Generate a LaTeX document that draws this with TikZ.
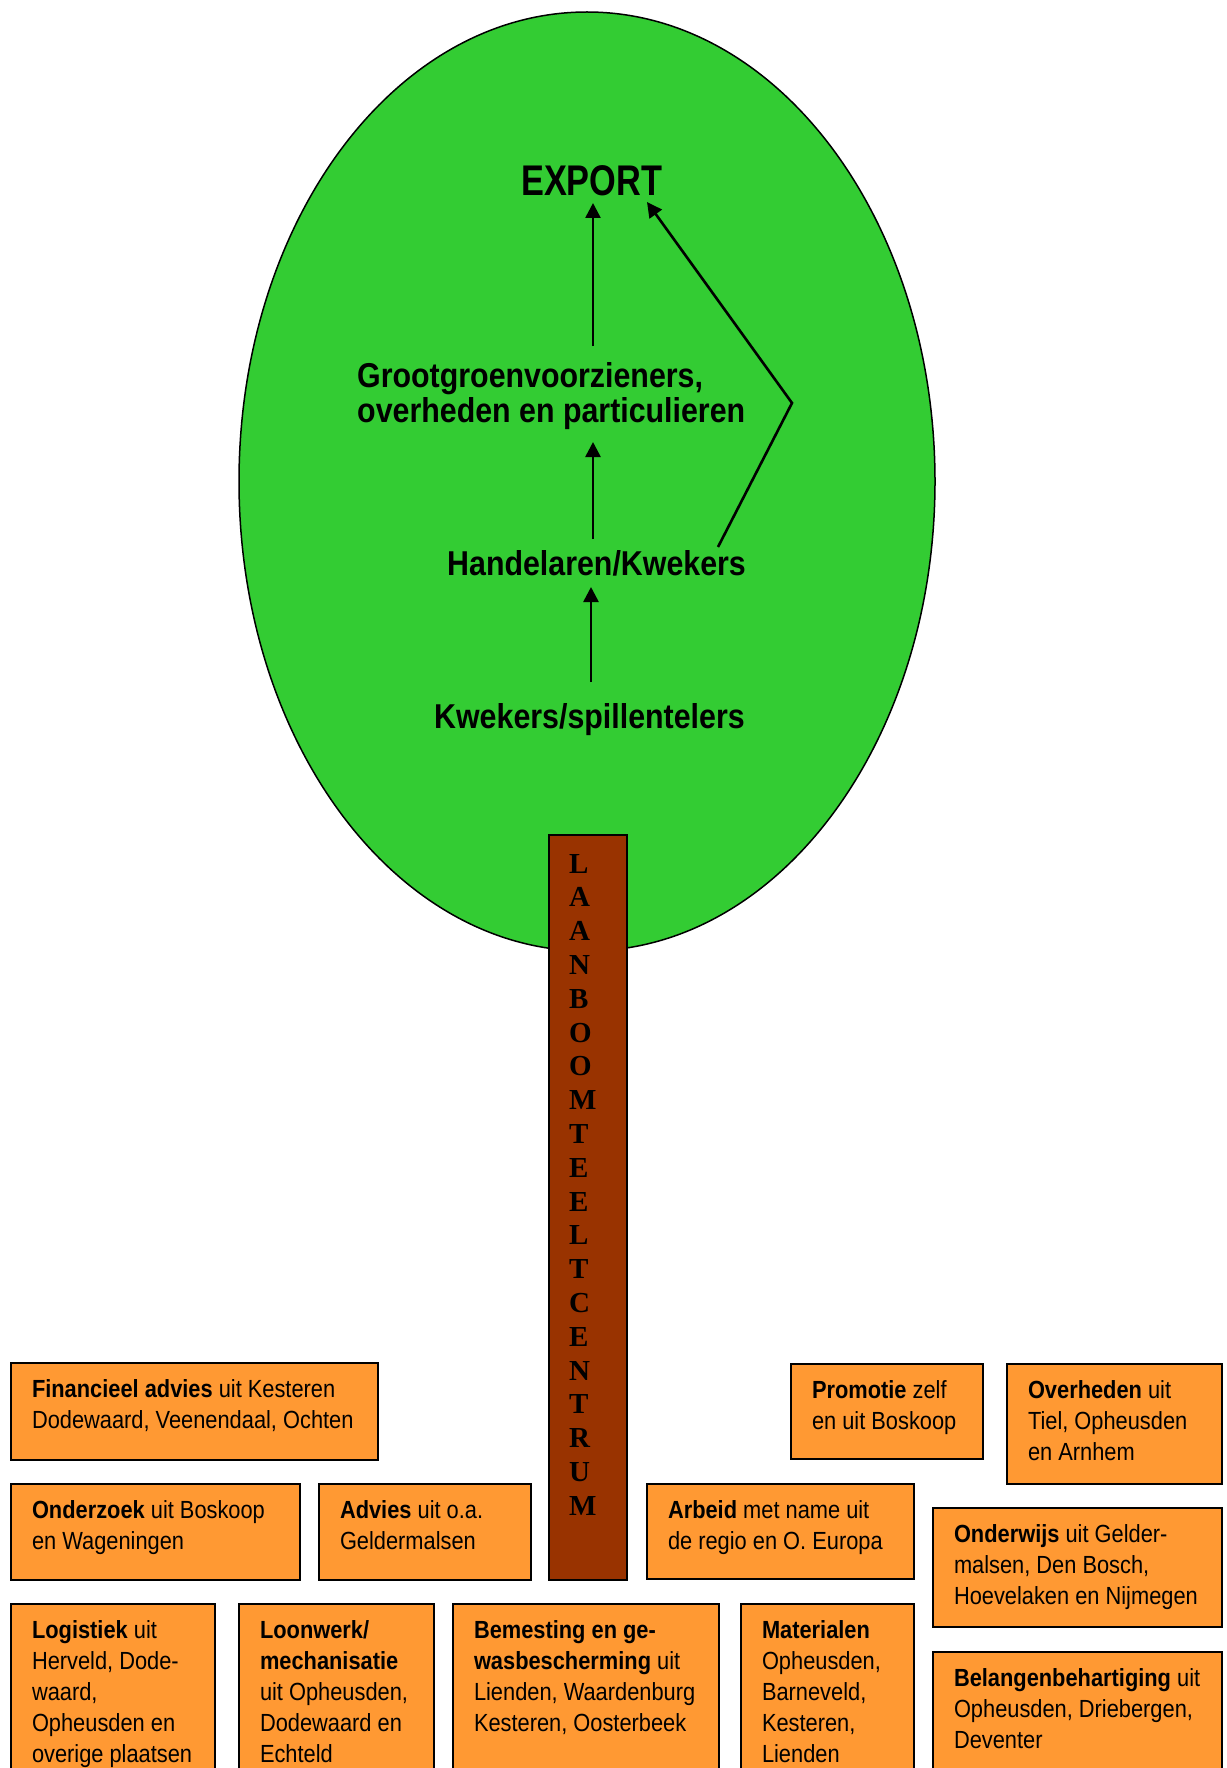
\documentclass[tikz,border=0pt]{standalone}
\usepackage{fontspec}
\setmainfont{Liberation Sans}[FakeStretch=0.88]
\newfontfamily\expfont{Liberation Sans}[FakeStretch=0.8]
\newfontfamily\trunkfont{Liberation Serif}
\usetikzlibrary{arrows.meta}
\definecolor{treegreen}{RGB}{51,204,51}
\definecolor{boxorange}{RGB}{255,153,51}
\definecolor{trunkbrown}{RGB}{153,51,0}
\newcommand{\bxt}[3]{\parbox[c][#2pt][t]{#1pt}{\vspace*{12.4pt}\noindent\begin{tabular}[t]{@{}l@{}}#3\end{tabular}}}
\begin{document}
\begin{tikzpicture}[x=1pt,y=-1pt,
  obox/.style={draw=black, line width=2pt, fill=boxorange, anchor=north west, inner xsep=21pt, inner ysep=0pt, outer sep=0pt, font=\fontsize{24.8}{31}\selectfont},
  btxt/.style={inner sep=0pt, anchor=base west, font=\bfseries\fontsize{34.5}{35}\selectfont},
  arr/.style={line width=2.6pt, -{Triangle[length=15pt,width=15pt]}},
  tl/.style={inner sep=0pt, anchor=base west, font=\trunkfont\bfseries\fontsize{29}{33}\selectfont}]
\useasboundingbox (0,0) rectangle (1226,1768);
\fill[white] (0,0) rectangle (1226,1768);
\clip (0,0) rectangle (1226,1768);

% crown
\draw[fill=treegreen, line width=1.5pt] (587,481.5) ellipse [x radius=348pt, y radius=469.5pt];

% trunk
\node[draw=black, line width=2pt, fill=trunkbrown, anchor=north west, minimum width=78pt, minimum height=745pt, inner sep=0pt, outer sep=0pt] (trunk) at (549,835) {};
\foreach \ch [count=\i from 0] in {L,A,A,N,B,O,O,M,T,E,E,L,T,C,E,N,T,R,U,M}
  \node[tl] (t\i) at (569,{873+\i*33.8}) {\ch};

% crown texts
\node[inner sep=0pt, anchor=base west, font=\expfont\bfseries\fontsize{42.9}{44}\selectfont] (export) at (521,196) {EXPORT};
\node[btxt] (groot) at (357,387) {\vtop{\baselineskip=35pt\hbox{Grootgroenvoorzieners,}\hbox{overheden en particulieren}}};
\node[btxt] (handel) at (447,575) {Handelaren/Kwekers};
\node[btxt] (kwek) at (434,728) {Kwekers/spillentelers};

% arrows
\coordinate (a1s) at (591,682); \coordinate (a1e) at (591,587);
\coordinate (a2s) at (593,539); \coordinate (a2e) at (593,442);
\coordinate (a3s) at (593,346); \coordinate (a3e) at (593,203);
\coordinate (a4s) at (718,547); \coordinate (a4m) at (792,403); \coordinate (a4e) at (647,202);
\draw[arr] (a1s) -- (a1e);
\draw[arr] (a2s) -- (a2e);
\draw[arr] (a3s) -- (a3e);
\draw[arr] (a4s) -- (a4m) -- (a4e);

% boxes
\node[obox] (fin) at (11,1363) {\bxt{325}{97}{\textbf{Financieel advies} uit Kesteren\\Dodewaard, Veenendaal, Ochten}};
\node[obox] (onderz) at (11,1484) {\bxt{247}{96}{\textbf{Onderzoek} uit Boskoop\\en Wageningen}};
\node[obox] (advies) at (319,1484) {\bxt{170}{96}{\textbf{Advies} uit o.a.\\Geldermalsen}};
\node[obox] (logis) at (11,1604) {\bxt{162}{200}{\textbf{Logistiek} uit\\Herveld, Dode-\\waard,\\Opheusden en\\overige plaatsen}};
\node[obox] (loon) at (239,1604) {\bxt{153}{200}{\textbf{Loonwerk/}\\\textbf{mechanisatie}\\uit Opheusden,\\Dodewaard en\\Echteld}};
\node[obox] (bemest) at (453,1604) {\bxt{224}{200}{\textbf{Bemesting en ge-}\\\textbf{wasbescherming} uit\\Lienden, Waardenburg\\Kesteren, Oosterbeek}};
\node[obox] (mater) at (741,1604) {\bxt{131}{200}{\textbf{Materialen}\\Opheusden,\\Barneveld,\\Kesteren,\\Lienden}};
\node[obox] (arbeid) at (647,1484) {\bxt{225}{95}{\textbf{Arbeid} met name uit\\de regio en O. Europa}};
\node[obox] (promo) at (791,1364) {\bxt{150}{95}{\textbf{Promotie} zelf\\en uit Boskoop}};
\node[obox] (overh) at (1007,1364) {\bxt{173}{120}{\textbf{Overheden} uit\\Tiel, Opheusden\\en Arnhem}};
\node[obox] (onderw) at (933,1508) {\bxt{247}{119}{\textbf{Onderwijs} uit Gelder-\\malsen, Den Bosch,\\Hoevelaken en Nijmegen}};
\node[obox] (belang) at (933,1652) {\bxt{247}{200}{\textbf{Belangenbehartiging} uit\\Opheusden, Driebergen,\\Deventer}};
\end{tikzpicture}
\end{document}
